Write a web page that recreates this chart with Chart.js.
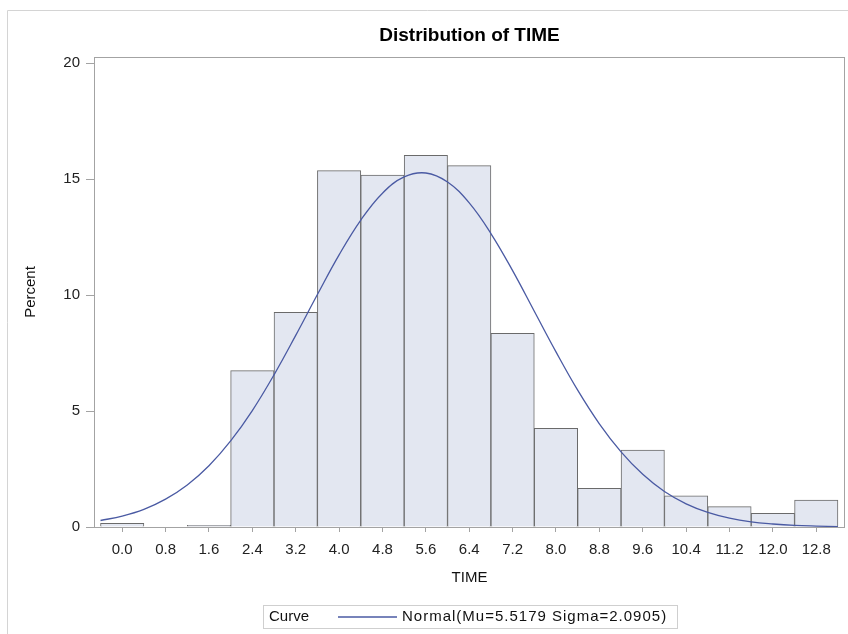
<!DOCTYPE html>
<html>
<head>
<meta charset="utf-8">
<script src="https://cdn.jsdelivr.net/npm/chart.js@4.4.1/dist/chart.umd.min.js"></script>
<style>
  html, body { margin: 0; padding: 0; background: #fff; }
  #wrap { width: 848px; height: 634px; }
</style>
</head>
<body>
<div id="wrap"><canvas id="myChart" width="848" height="634"></canvas></div>
<script>
// histogram bins (midpoints) and percent per bin
const binMids = [0.0, 0.8, 1.6, 2.4, 3.2, 4.0, 4.8, 5.6, 6.4, 7.2, 8.0, 8.8, 9.6, 10.4, 11.2, 12.0, 12.8];
const binPercent = [0.16, 0, 0.07, 6.74, 9.25, 15.36, 15.17, 16.02, 15.58, 8.35, 4.25, 1.67, 3.32, 1.34, 0.88, 0.59, 1.16];

// fitted normal curve
const curveX = [-0.4, 0.0, 0.4, 0.8, 1.2, 1.6, 2.0, 2.4, 2.8, 3.2, 3.6, 4.0, 4.4, 4.8, 5.2, 5.6, 6.0, 6.4,
  6.8, 7.2, 7.6, 8.0, 8.4, 8.8, 9.2, 9.6, 10.0, 10.4, 10.8, 11.2, 11.6, 12.0, 12.4, 12.8, 13.2];
const curvePercent = [0.28, 0.47, 0.76, 1.2, 1.81, 2.64, 3.71, 5.02, 6.56, 8.26, 10.02, 11.73, 13.23, 14.39,
  15.09, 15.26, 14.87, 13.97, 12.65, 11.05, 9.3, 7.55, 5.9, 4.45, 3.24, 2.27, 1.53, 1.0, 0.63, 0.38, 0.22,
  0.13, 0.07, 0.04, 0.02];

const xTicks = binMids;
const yTicks = [0, 5, 10, 15, 20];
const titleText = "Distribution of TIME";
const legendLabel = "Normal(Mu=5.5179 Sigma=2.0905)";

const FONT = "'Liberation Sans', Arial, sans-serif";
const curveColor = "#4a5aa3";
const axisColor = "#a3a3a3";

// title centred over the plot box, frame, and the boxed legend
const framePlugin = {
  id: "frame",
  afterDraw(chart) {
    const ctx = chart.ctx;
    const a = chart.chartArea;
    ctx.save();
    // outer graph border
    ctx.strokeStyle = "#d4d4d4";
    ctx.lineWidth = 1;
    ctx.beginPath();
    ctx.moveTo(7.5, 634);
    ctx.lineTo(7.5, 10.5);
    ctx.lineTo(848, 10.5);
    ctx.stroke();
    // plot box
    ctx.strokeStyle = axisColor;
    ctx.strokeRect(Math.round(a.left) + 0.5, Math.round(a.top) + 0.5,
      Math.round(a.right - a.left) - 1, Math.round(a.bottom - a.top));
    // title
    ctx.fillStyle = "#000";
    ctx.font = "bold 19px " + FONT;
    ctx.textAlign = "center";
    ctx.textBaseline = "middle";
    ctx.fillText(titleText, (a.left + a.right) / 2, 36);
    // legend
    ctx.textAlign = "left";
    ctx.strokeStyle = "#cfcfcf";
    ctx.strokeRect(263.5, 605.5, 414, 23);
    ctx.fillStyle = "#111";
    ctx.font = "15px " + FONT;
    ctx.fillText("Curve", 269, 617);
    ctx.strokeStyle = curveColor;
    ctx.lineWidth = 1.3;
    ctx.beginPath();
    ctx.moveTo(338, 617);
    ctx.lineTo(397, 617);
    ctx.stroke();
    if ("letterSpacing" in ctx) ctx.letterSpacing = "1px";
    ctx.fillText(legendLabel, 402, 617);
    ctx.restore();
  }
};

function drawChart() {
  let ctx = document.getElementById("myChart").getContext("2d");
  new Chart(ctx, {
    data: {
      datasets: [
        {
          type: "line",
          order: 0,
          data: curveX.map((x, i) => ({ x: x, y: curvePercent[i] })),
          borderColor: curveColor,
          borderWidth: 1.3,
          pointRadius: 0,
          tension: 0.4,
          fill: false,
        },
        {
          type: "bar",
          order: 1,
          data: binMids.map((x, i) => ({ x: x, y: binPercent[i] })),
          backgroundColor: "#e3e7f1",
          borderColor: "#6a6a6a",
          borderWidth: 1,
          barPercentage: 1,
          categoryPercentage: 1,
          grouped: false,
        },
      ],
    },
    options: {
      responsive: false,
      animation: false,
      devicePixelRatio: 1,
      layout: { padding: { left: 0, right: 3, top: 57, bottom: 0 } },
      plugins: {
        legend: { display: false },
        tooltip: { enabled: false },
        title: { display: false },
      },
      scales: {
        x: {
          type: "linear",
          offset: false,
          min: -0.52,
          max: 13.33,
          afterBuildTicks: (s) => { s.ticks = xTicks.map((v) => ({ value: v })); },
          afterFit: (s) => { s.height = 107; },
          ticks: {
            autoSkip: false,
            maxRotation: 0,
            padding: 9,
            color: "#222",
            font: { family: FONT, size: 15 },
            callback: (v) => Number(v).toFixed(1),
          },
          grid: { offset: false, drawOnChartArea: false, tickLength: 5, color: axisColor },
          border: { display: false },
          title: {
            display: true,
            text: "TIME",
            color: "#111",
            font: { family: FONT, size: 15 },
            padding: { top: 0, bottom: 47 },
          },
        },
        y: {
          min: 0,
          max: 20.26,
          afterBuildTicks: (s) => { s.ticks = yTicks.map((v) => ({ value: v })); },
          afterFit: (s) => { s.width = 94; },
          ticks: {
            padding: 6,
            color: "#222",
            font: { family: FONT, size: 15 },
          },
          grid: { drawOnChartArea: false, tickLength: 8, color: axisColor },
          border: { display: false },
          title: {
            display: true,
            text: "Percent",
            color: "#111",
            font: { family: FONT, size: 15 },
            padding: { top: 22, bottom: 0 },
          },
        },
      },
    },
    plugins: [framePlugin],
  });
}

drawChart();
</script>
</body>
</html>
